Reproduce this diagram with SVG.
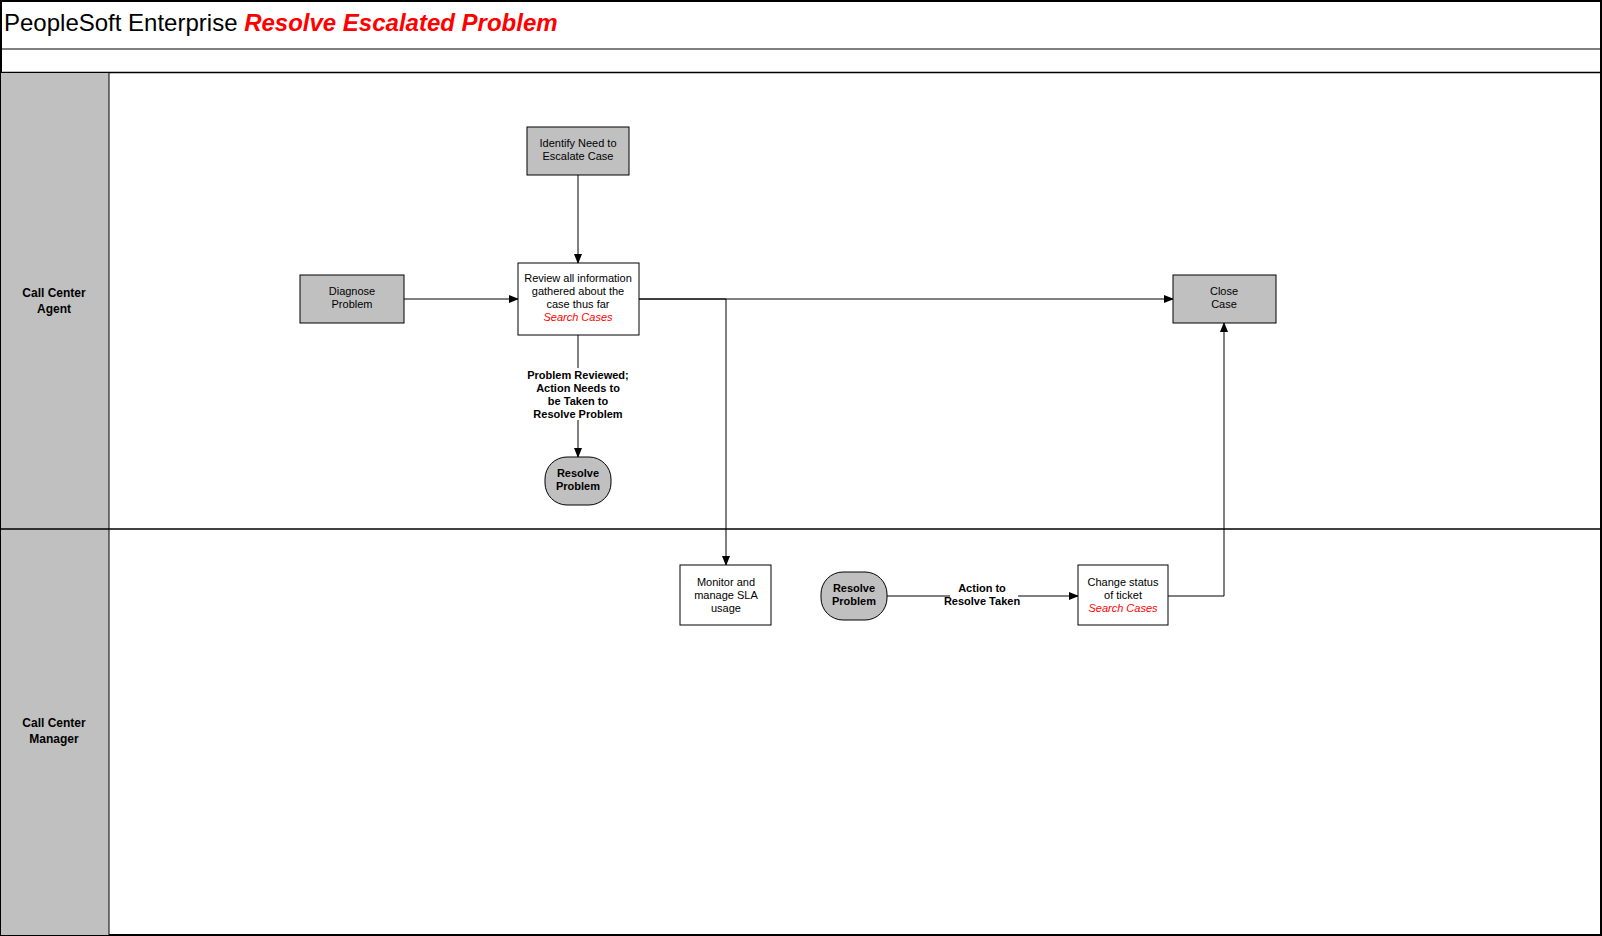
<svg xmlns="http://www.w3.org/2000/svg" width="1602" height="936" viewBox="0 0 1602 936">
<style>
text{font-family:"Liberation Sans",Arial,sans-serif;font-size:11px;text-anchor:middle;fill:#000}
.b{font-weight:bold}
.r{fill:#ff0000;font-style:italic}
.g{fill:#c0c0c0;stroke:#000;stroke-width:1}
.w{fill:#fff;stroke:#000;stroke-width:1}
.c{fill:none;stroke:#000;stroke-width:1}
.lane{font-size:12px;font-weight:bold}
</style>
<defs><marker id="a" markerWidth="10" markerHeight="8" refX="9" refY="4" orient="auto" markerUnits="userSpaceOnUse"><path d="M0,0L10,4L0,8z" fill="#000"/></marker></defs>
<rect x="0" y="0" width="1602" height="936" fill="#fff"/>
<g id="frame">
<rect x="1" y="1" width="1600" height="934" fill="none" stroke="#000" stroke-width="2"/>
<line x1="0" y1="49" x2="1602" y2="49" stroke="#000"/>
<line x1="0" y1="72.5" x2="1602" y2="72.5" stroke="#000" stroke-width="1.5"/>
<rect x="1" y="73" width="108" height="862" fill="#c0c0c0"/>
<line x1="109" y1="73" x2="109" y2="935" stroke="#000"/>
<line x1="0" y1="529" x2="1602" y2="529" stroke="#000" stroke-width="1.5"/>
<text x="4" y="31" style="font-size:24px;text-anchor:start">PeopleSoft Enterprise <tspan style="fill:#ff0000;font-weight:bold;font-style:italic">Resolve Escalated Problem</tspan></text>
<text class="lane" x="54" y="297">Call Center</text><text class="lane" x="54" y="313">Agent</text>
<text class="lane" x="54" y="727">Call Center</text><text class="lane" x="54" y="743">Manager</text>
</g>
<g id="connectors">
<path class="c" d="M578,175V263" marker-end="url(#a)"/>
<path class="c" d="M404,299H518" marker-end="url(#a)"/>
<path class="c" d="M639,299H1173" marker-end="url(#a)"/>
<path class="c" d="M639,299H726V565" marker-end="url(#a)"/>
<path class="c" d="M578,335V368M578,420V457" marker-end="url(#a)"/>
<path class="c" d="M887,596H950M1018,596H1078" marker-end="url(#a)"/>
<path class="c" d="M1168,596H1224V323" marker-end="url(#a)"/>
<text class="b" x="578" y="379">Problem Reviewed;</text>
<text class="b" x="578" y="392">Action Needs to</text>
<text class="b" x="578" y="405">be Taken to</text>
<text class="b" x="578" y="418">Resolve Problem</text>
<text class="b" x="982" y="592">Action to</text>
<text class="b" x="982" y="605">Resolve Taken</text>
</g>
<g id="identify"><rect class="g" x="527" y="127" width="102" height="48"/><text x="578" y="147">Identify Need to</text><text x="578" y="160">Escalate Case</text></g>
<g id="review"><rect class="w" x="518" y="263" width="121" height="72"/><text x="578" y="282">Review all information</text><text x="578" y="295">gathered about the</text><text x="578" y="308">case thus far</text><text class="r" x="578" y="321">Search Cases</text></g>
<g id="diagnose"><rect class="g" x="300" y="275" width="104" height="48"/><text x="352" y="295">Diagnose</text><text x="352" y="308">Problem</text></g>
<g id="close"><rect class="g" x="1173" y="275" width="103" height="48"/><text x="1224" y="295">Close</text><text x="1224" y="308">Case</text></g>
<g id="resolve1"><rect class="g" x="545" y="457" width="66" height="48" rx="22"/><text class="b" x="578" y="477">Resolve</text><text class="b" x="578" y="490">Problem</text></g>
<g id="monitor"><rect class="w" x="680" y="565" width="91" height="60"/><text x="726" y="586">Monitor and</text><text x="726" y="599">manage SLA</text><text x="726" y="612">usage</text></g>
<g id="resolve2"><rect class="g" x="821" y="572" width="66" height="48" rx="22"/><text class="b" x="854" y="592">Resolve</text><text class="b" x="854" y="605">Problem</text></g>
<g id="change"><rect class="w" x="1078" y="565" width="90" height="60"/><text x="1123" y="586">Change status</text><text x="1123" y="599">of ticket</text><text class="r" x="1123" y="612">Search Cases</text></g>
</svg>
